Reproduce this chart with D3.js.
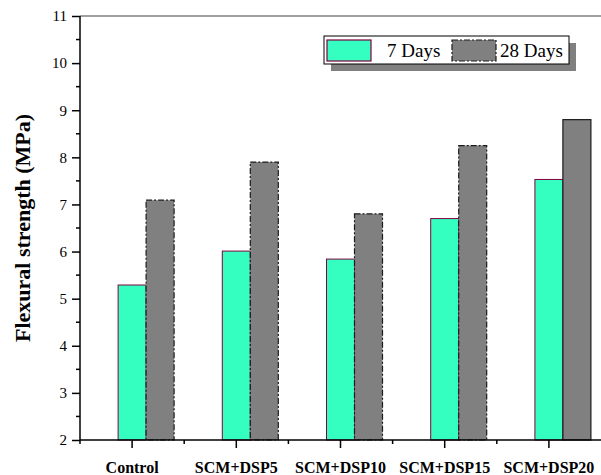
<!DOCTYPE html>
<html>
<head>
<meta charset="utf-8">
<script src="https://cdn.jsdelivr.net/npm/d3@7"></script>
<style>
	body { margin: 0; background: #fff; }
	svg { display: block; font-family: "Liberation Serif", "Times New Roman", serif; }
</style>
</head>
<body>
<div id="chart-area"></div>
<script>

// Data
let categories = ["Control", "SCM+DSP5", "SCM+DSP10", "SCM+DSP15", "SCM+DSP20"];
let seriesNames = ["7 Days", "28 Days"];
let days7 = [5.29, 6.01, 5.84, 6.70, 7.53];
let days28 = [7.09, 7.90, 6.80, 8.25, 8.80];
let yTicks = [2, 3, 4, 5, 6, 7, 8, 9, 10, 11];
let yMinorTicks = [2.5, 3.5, 4.5, 5.5, 6.5, 7.5, 8.5, 9.5, 10.5];

// flatten into rows for the bars
let rows = [];
categories.forEach((c, i) => {
	rows.push({cat: c, series: "7 Days", value: days7[i], idx: i});
	rows.push({cat: c, series: "28 Days", value: days28[i], idx: i});
});

drawChart(rows);

function drawChart(data){

	let totalW = 601, totalH = 475;
	let margin = {top: 16, right: 0, bottom: 35, left: 80};
	let width = totalW - margin.left - margin.right,
		height = totalH - margin.top - margin.bottom;

	let svg = d3.select("#chart-area").append("svg")
		.attr("width", totalW)
		.attr("height", totalH)
		.append("g")
		.attr("transform", "translate(" + margin.left + "," + margin.top + ")");

	// X scale (categories)
	let xScale = d3.scaleBand()
		.domain(categories)
		.range([0, width]);

	// bar offsets relative to category centre
	let barW = 28;
	let subScale = d3.scaleBand()
		.domain(seriesNames)
		.range([-barW / 2, barW * 1.5]);

	// Y scale
	let yScale = d3.scaleLinear()
		.domain([2, 11])
		.range([height, 0]);

	let fills = {"7 Days": "#35ffc0", "28 Days": "#808080"};

	// bars
	svg.selectAll("rect.bar")
		.data(data)
		.enter()
		.append("rect")
		.attr("class", "bar")
		.attr("x", d => xScale(d.cat) + xScale.bandwidth() / 2 + subScale(d.series))
		.attr("y", d => yScale(d.value))
		.attr("width", subScale.bandwidth())
		.attr("height", d => height - yScale(d.value))
		.attr("fill", d => fills[d.series])
		.attr("stroke", d => d.series == "7 Days" ? "#800040" : "#1a1a1a")
		.attr("stroke-width", d => d.series == "7 Days" ? 1 : 1.2)
		.attr("stroke-dasharray", d => (d.series == "28 Days" && d.idx < 4) ? "6,2,2,2" : null);

	// top frame line
	svg.append("line")
		.attr("x1", 0).attr("x2", width)
		.attr("y1", 0).attr("y2", 0)
		.attr("stroke", "#808080")
		.attr("stroke-width", 1.5);

	// Y axis
	let yAxis = d3.axisLeft(yScale)
		.tickValues(yTicks)
		.tickSize(8)
		.tickPadding(5)
		.tickFormat(d3.format("d"));

	let yG = svg.append("g")
		.attr("class", "y axis")
		.call(yAxis);
	yG.select(".domain").remove();
	yG.selectAll(".tick line").attr("stroke", "#000").attr("stroke-width", 1.5);
	yG.selectAll(".tick text")
		.attr("font-family", "Liberation Serif, serif")
		.attr("font-size", 15)
		.attr("fill", "#000");

	svg.append("g")
		.selectAll("line")
		.data(yMinorTicks)
		.enter()
		.append("line")
		.attr("x1", -4).attr("x2", 0)
		.attr("y1", d => yScale(d)).attr("y2", d => yScale(d))
		.attr("stroke", "#000")
		.attr("stroke-width", 1.5);

	svg.append("line")
		.attr("x1", 0).attr("x2", 0)
		.attr("y1", 0).attr("y2", height)
		.attr("stroke", "#000")
		.attr("stroke-width", 1.5);

	// X axis
	let xAxis = d3.axisBottom(xScale)
		.tickSize(8)
		.tickPadding(14);

	let xG = svg.append("g")
		.attr("class", "x axis")
		.attr("transform", "translate(0," + height + ")")
		.call(xAxis);
	xG.select(".domain").remove();
	xG.selectAll(".tick line").attr("stroke", "#000").attr("stroke-width", 1.5);
	xG.selectAll(".tick text")
		.attr("font-family", "Liberation Serif, serif")
		.attr("font-size", 16)
		.attr("font-weight", "bold")
		.attr("fill", "#000");

	// minor ticks on band edges
	xG.selectAll("line.minor")
		.data(categories)
		.enter()
		.append("line")
		.attr("class", "minor")
		.attr("x1", d => xScale(d)).attr("x2", d => xScale(d))
		.attr("y1", 0).attr("y2", 4)
		.attr("stroke", "#000")
		.attr("stroke-width", 1.5);

	xG.append("line")
		.attr("x1", 0).attr("x2", width)
		.attr("y1", 0).attr("y2", 0)
		.attr("stroke", "#000")
		.attr("stroke-width", 1.5);

	// Y axis title
	svg.append("text")
		.attr("transform", "translate(" + (30 - margin.left) + "," + (height / 2) + ") rotate(-90)")
		.attr("text-anchor", "middle")
		.attr("font-size", 22)
		.attr("font-weight", "bold")
		.text("Flexural strength (MPa)");

	// Legend
	let legend = svg.append("g")
		.attr("transform", "translate(" + (324 - margin.left) + "," + (36 - margin.top) + ")");

	legend.append("rect")
		.attr("x", 7).attr("y", 7)
		.attr("width", 245).attr("height", 28)
		.attr("fill", "#808080");
	legend.append("rect")
		.attr("x", 0).attr("y", 0)
		.attr("width", 245).attr("height", 28)
		.attr("fill", "#fff")
		.attr("stroke", "#000")
		.attr("stroke-width", 1);

	let legendItems = [
		{name: seriesNames[0], sx: 3, tx: 63},
		{name: seriesNames[1], sx: 128, tx: 176}
	];

	legendItems.forEach((it, i) => {
		legend.append("rect")
			.attr("x", it.sx).attr("y", 4)
			.attr("width", 44).attr("height", 21)
			.attr("fill", fills[it.name])
			.attr("stroke", i == 0 ? "#800040" : "#1a1a1a")
			.attr("stroke-width", 1.2)
			.attr("stroke-dasharray", i == 1 ? "6,2,2,2" : null);
		legend.append("text")
			.attr("x", it.tx).attr("y", 21)
			.attr("font-size", 19)
			.text(it.name);
	});
}

</script>
</body>
</html>
